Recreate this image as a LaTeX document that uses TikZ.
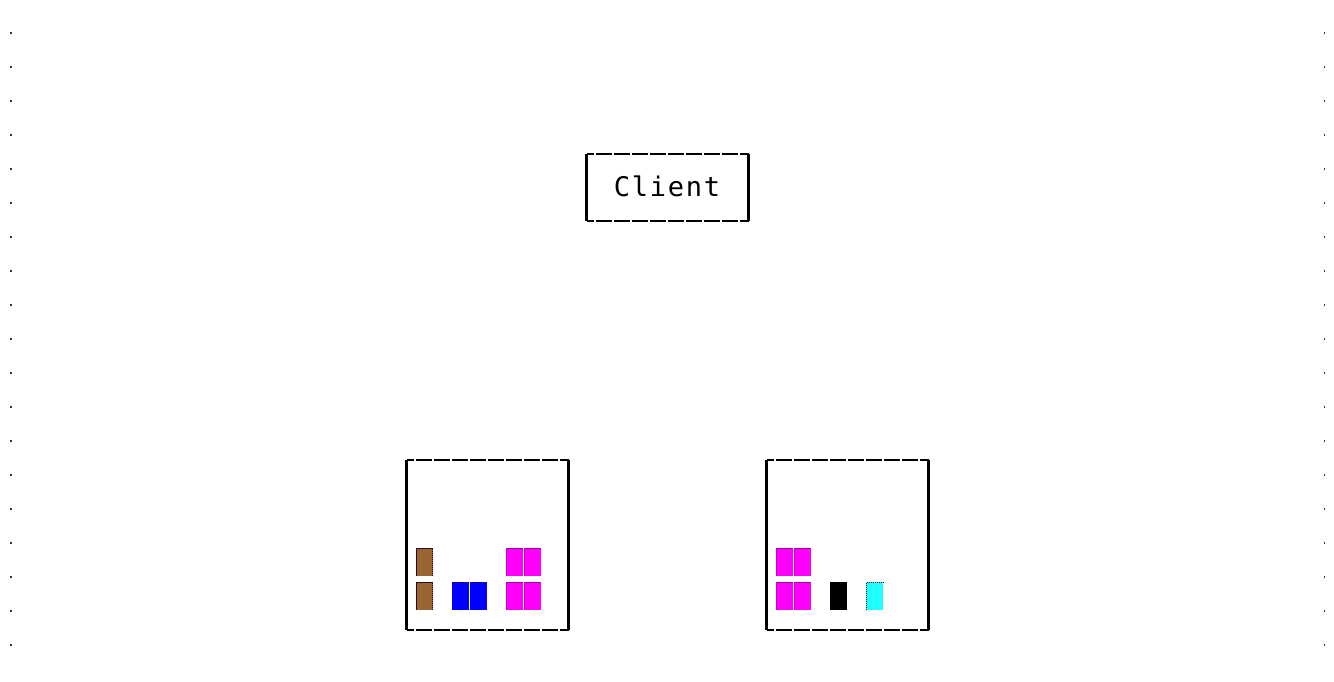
\documentclass[tikz,border=0pt]{standalone}
\usepackage{fontspec}
\newfontfamily\monofont[LetterSpace=6.6]{DejaVu Sans Mono}
\definecolor{brownblk}{HTML}{996633}
\definecolor{blueblk}{HTML}{0000FF}
\definecolor{magblk}{HTML}{FF00FF}
\definecolor{magedge}{HTML}{A000A0}
\definecolor{cyanblk}{HTML}{20FFFF}
\definecolor{darkedge}{HTML}{2A0A2A}
\tikzset{
  hline/.style={line width=2.2pt, dash pattern=on 16.5pt off 1.5pt, dash phase=9pt},
  vline/.style={line width=3pt},
  boxnode/.style={inner sep=0pt, outer sep=0pt, minimum width=162pt},
  dotmark/.style={fill=black!80},
}
\begin{document}
\begin{tikzpicture}[x=1pt,y=-1pt]
\useasboundingbox (0,0) rectangle (1334,682);
\fill[white] (0,0) rectangle (1334,682);
% edge dots
\foreach \k in {0,...,18} {
  \fill[dotmark] (10,{32.3+34*\k}) rectangle ++(1.6,1.6);
  \fill[dotmark] (1323.6,{32.3+34*\k}) rectangle ++(1.6,1.6);
}
% Client box
\node[boxnode, minimum height=67pt] (clientbox) at (667.5,187.5) {};
\draw[hline] (clientbox.north west) -- (clientbox.north east);
\draw[hline] (clientbox.south west) -- (clientbox.south east);
\draw[vline] (clientbox.north west) -- (clientbox.south west);
\draw[vline] (clientbox.north east) -- (clientbox.south east);
\node[font=\monofont\fontsize{27}{32}\selectfont, anchor=base, inner sep=0pt] (client) at (667,196.5) {Client};
% server boxes
\node[boxnode, minimum height=170pt] (srva) at (487.5,545) {};
\node[boxnode, minimum height=170pt] (srvb) at (847.5,545) {};
\foreach \b in {srva,srvb} {
  \draw[hline] (\b.north west) -- (\b.north east);
  \draw[hline] (\b.south west) -- (\b.south east);
  \draw[vline] (\b.north west) -- (\b.south west);
  \draw[vline] (\b.north east) -- (\b.south east);
}
% blocks in left box
\foreach \y in {548,582} {
  \fill[brownblk] (416,\y) rectangle ++(17,28);
  \draw[darkedge, line width=1pt] (416.5,\y+28) -- (416.5,\y+0.5) -- (433,\y+0.5);
  \draw[darkedge, line width=0.8pt, dash pattern=on 1pt off 1pt] (432.6,\y+1) -- (432.6,\y+28);
}
\foreach \x in {452,470} {
  \fill[blueblk] (\x,582) rectangle ++(17,28);
  \draw[darkedge, line width=0.8pt, dash pattern=on 1pt off 1pt] (\x,582.4) -- (\x+17,582.4);
}
\foreach \x in {506,524} {
  \foreach \y in {548,582} {
    \fill[magblk] (\x,\y) rectangle ++(17,28);
    \draw[magedge, line width=1pt] (\x,\y+0.5) -- (\x+17,\y+0.5);
    \draw[magedge!60!magblk, line width=0.8pt] (\x+0.4,\y+1) -- (\x+0.4,\y+28);
  }
}
% blocks in right box
\foreach \x in {776,794} {
  \foreach \y in {548,582} {
    \fill[magblk] (\x,\y) rectangle ++(17,28);
    \draw[magedge, line width=1pt] (\x,\y+0.5) -- (\x+17,\y+0.5);
    \draw[magedge!60!magblk, line width=0.8pt] (\x+0.4,\y+1) -- (\x+0.4,\y+28);
  }
}
\fill[black] (830,582) rectangle ++(17,28);
\fill[cyanblk] (866,582) rectangle ++(17,28);
\draw[darkedge, line width=0.8pt, dash pattern=on 1pt off 1pt] (866.4,610) -- (866.4,582.4) -- (883,582.4);
\end{tikzpicture}
\end{document}
